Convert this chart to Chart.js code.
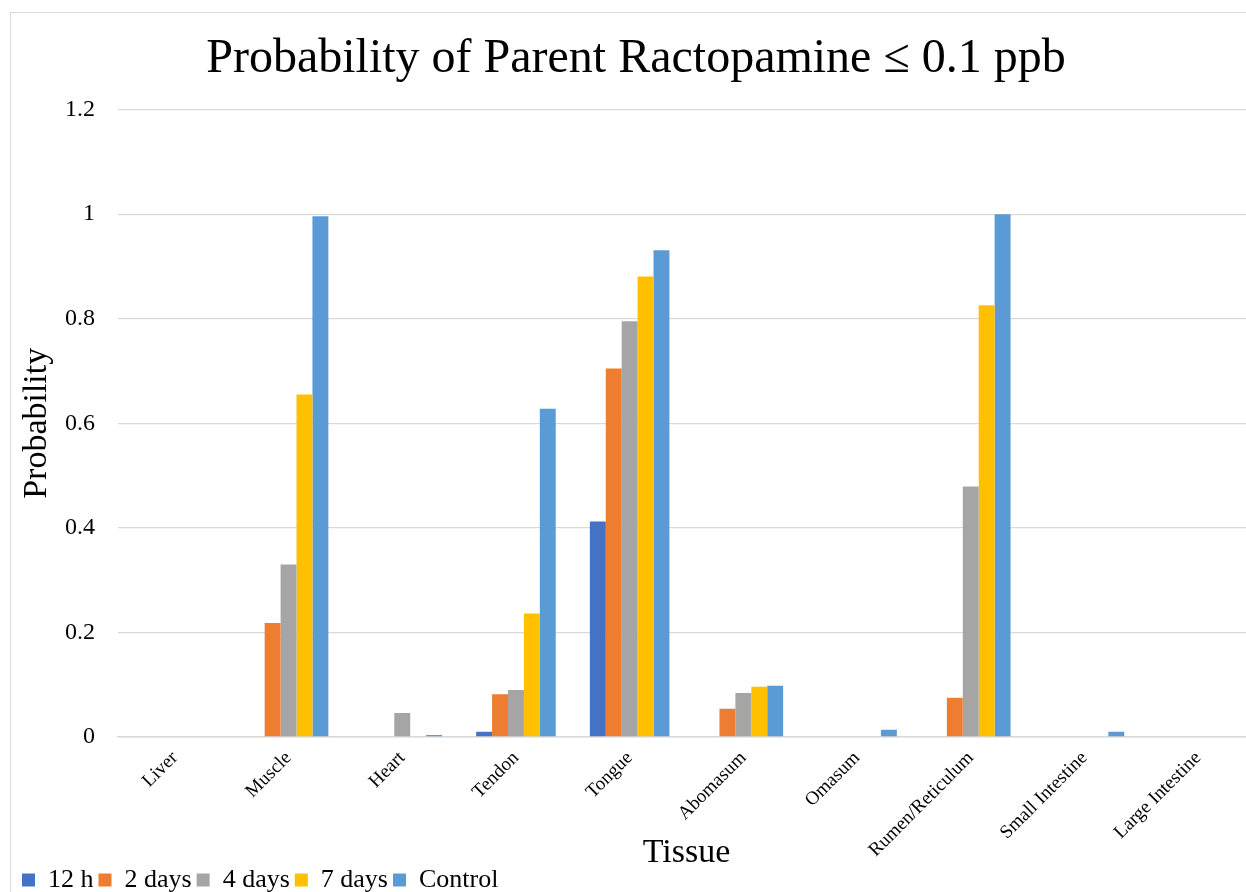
<!DOCTYPE html>
<html>
<head>
<meta charset="utf-8">
<script src="https://cdn.jsdelivr.net/npm/chart.js@4"></script>
<style>
  html, body { margin: 0; padding: 0; background: #fff; overflow: hidden; width: 1246px; height: 892px; }
  #frame { position: absolute; left: 10px; top: 12px; width: 1400px; height: 1000px; border: 1px solid #d9d9d9; box-sizing: border-box; }
  #wrap { position: absolute; left: 0; top: 0; width: 1264px; height: 903px; }
</style>
</head>
<body>
<div id="frame"></div>
<div id="wrap"><canvas id="c" width="1264" height="903"></canvas></div>
<script>
const tissues = ['Liver', 'Muscle', 'Heart', 'Tendon', 'Tongue', 'Abomasum', 'Omasum', 'Rumen/Reticulum', 'Small Intestine', 'Large Intestine'];
const seriesNames = ['12 h', '2 days', '4 days', '7 days', 'Control'];
const h12     = [0, 0,     0,     0.010, 0.412, 0,     0,     0,     0,     0];
const days2   = [0, 0.218, 0,     0.082, 0.705, 0.054, 0,     0.075, 0,     0];
const days4   = [0, 0.330, 0.046, 0.090, 0.795, 0.084, 0,     0.479, 0,     0];
const days7   = [0, 0.655, 0,     0.236, 0.881, 0.096, 0,     0.826, 0,     0];
const control = [0, 0.996, 0.004, 0.628, 0.931, 0.098, 0.014, 1.000, 0.010, 0];
const yTickValues = [0, 0.2, 0.4, 0.6, 0.8, 1, 1.2];
const yTickLabels = ['0', '0.2', '0.4', '0.6', '0.8', '1', '1.2'];
const colors = ['#4472C4', '#ED7D31', '#A5A5A5', '#FFC000', '#5B9BD5'];

const serif = "'Liberation Serif', 'Times New Roman', serif";
const allSeries = [h12, days2, days4, days7, control];

new Chart(document.getElementById('c'), {
  type: 'bar',
  data: {
    labels: tissues,
    datasets: allSeries.map((vals, i) => ({
      label: seriesNames[i],
      data: vals,
      backgroundColor: colors[i],
      borderWidth: 0,
      categoryPercentage: 0.7,
      barPercentage: 1.0
    }))
  },
  options: {
    responsive: false,
    animation: false,
    layout: { padding: { left: 17, right: 9, top: 0, bottom: 0 } },
    plugins: {
      title: {
        display: true,
        text: 'Probability of Parent Ractopamine \u2264 0.1 ppb',
        color: '#000',
        font: { family: serif, size: 48, weight: 'normal', lineHeight: 1.2 },
        padding: { top: 31, bottom: 21 }
      },
      legend: {
        position: 'bottom',
        align: 'start',
        labels: {
          color: '#000',
          font: { family: serif, size: 26 },
          boxWidth: 13,
          boxHeight: 13,
          padding: 5
        }
      },
      tooltip: { enabled: false }
    },
    scales: {
      x: {
        grid: { display: false, drawTicks: false },
        border: { color: '#d9d9d9', width: 1.5 },
        ticks: {
          color: '#000',
          font: { family: serif, size: 19 },
          minRotation: 45,
          maxRotation: 45,
          padding: 10,
          autoSkip: false
        },
        title: {
          display: true,
          text: 'Tissue',
          color: '#000',
          font: { family: serif, size: 34, lineHeight: 1 },
          padding: { top: 0, bottom: -8 }
        },
        afterFit(scale) { scale.height = 125; }
      },
      y: {
        min: 0,
        max: 1.2,
        afterBuildTicks(scale) { scale.ticks = yTickValues.map(v => ({ value: v })); },
        grid: { color: '#d9d9d9', lineWidth: 1.3, drawTicks: false },
        border: { display: false },
        ticks: {
          color: '#000',
          font: { family: serif, size: 24 },
          padding: 23,
          callback: (v) => yTickLabels[yTickValues.indexOf(v)] ?? ''
        },
        title: {
          display: true,
          text: 'Probability',
          color: '#000',
          font: { family: serif, size: 34, lineHeight: 1 },
          padding: { top: 3, bottom: 0 }
        },
        afterFit(scale) { scale.width = 101; }
      }
    }
  }
});
</script>
</body>
</html>
